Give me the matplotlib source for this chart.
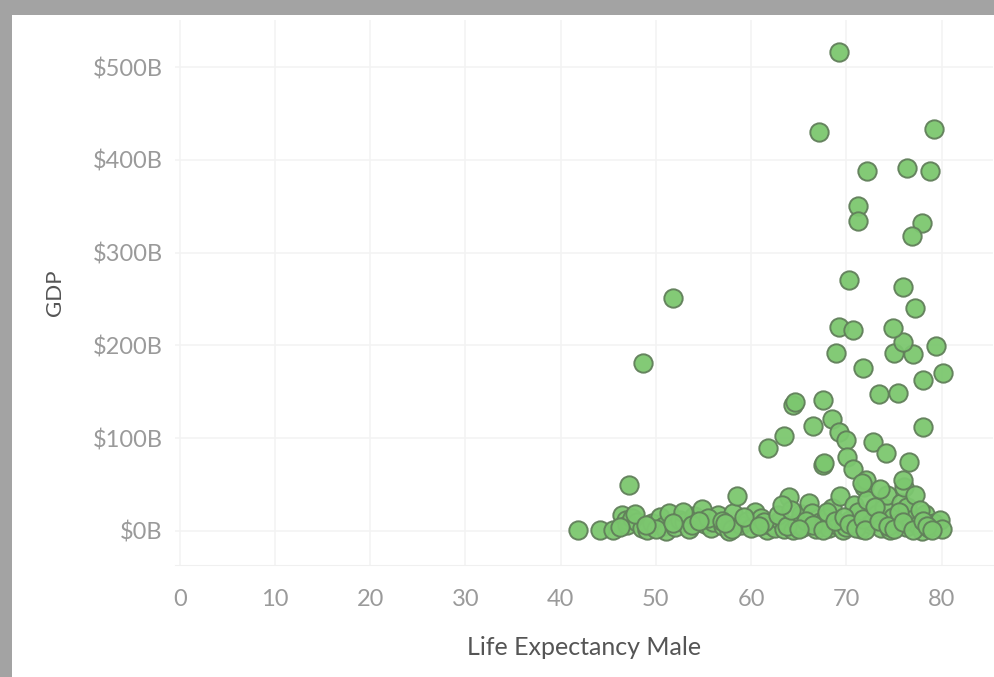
import matplotlib
matplotlib.use('Agg')
import matplotlib.pyplot as plt
from matplotlib.patches import Rectangle
from matplotlib.ticker import FuncFormatter

plt.rcParams['font.family'] = ['Lato', 'DejaVu Sans']

# life expectancy (years) and GDP (billions of $)
life_low = [41.8, 44.1, 45.5, 46.4, 46.9, 47.0, 47.5, 48.0, 48.5, 49.1, 49.6, 50.4,
            50.9, 51.1, 51.4, 52.0, 52.5, 53.0, 53.5, 54.0, 54.8, 55.2, 55.8, 56.0,
            56.5, 57.0, 57.7, 58.1, 58.5, 58.9, 59.6, 60.0, 60.4, 61.0, 61.7, 62.0,
            62.5, 63.0, 63.5, 64.0, 64.4, 64.8, 65.2, 65.5, 66.1, 66.4, 66.8, 67.2,
            67.9, 68.2, 68.5, 69.0, 69.3, 69.6, 70.0, 70.4, 70.8, 71.2, 71.5, 71.9,
            72.2, 72.5, 72.8, 73.2, 73.6, 74.0, 74.3, 74.6, 74.9, 75.3, 75.7, 76.1,
            76.4, 76.3, 76.8, 77.2, 77.5, 77.9, 78.3, 78.7, 79.2, 79.8, 80.0,
            46.2, 47.8, 50.0, 52.8, 53.8, 55.5, 56.9, 58.0, 59.2, 61.3, 62.8, 63.8,
            64.2, 65.8, 66.5, 67.5, 68.0, 68.8, 69.8, 70.3, 71.0, 71.7, 72.0, 73.0,
            73.4, 74.4, 75.0, 75.5, 76.0, 77.0, 77.7, 78.0, 78.5, 79.0, 65.0, 63.2,
            60.8, 57.3, 54.5, 51.8, 49.0]
gdp_low = [1, 1, 1, 17, 12, 6, 14, 9, 3, 1, 8, 15,
           5, 0, 19, 4, 12, 9, 2, 16, 23, 7, 3, 9,
           17, 5, 0, 19, 37, 6, 10, 3, 20, 14, 1, 6,
           3, 12, 2, 36, 1, 8, 18, 4, 30, 19, 2, 9,
           14, 3, 25, 6, 37, 1, 4, 12, 28, 20, 2, 47,
           33, 7, 9, 18, 3, 24, 39, 1, 15, 8, 30, 47,
           26, 4, 12, 39, 6, 0, 18, 3, 8, 12, 2,
           4, 18, 2, 20, 6, 14, 11, 2, 15, 9, 17, 5,
           22, 11, 6, 1, 20, 10, 15, 7, 3, 13, 1, 26,
           11, 5, 2, 20, 9, 1, 22, 10, 5, 1, 2, 28,
           5, 8, 11, 8, 6]

life_high = [47.2, 48.6, 51.8, 61.8, 63.4, 64.4, 64.6, 67.5, 66.5, 68.5, 69.2, 70.0,
             67.5, 67.7, 70.1, 70.7, 72.8, 74.2, 76.6, 73.4, 75.4, 78.0, 78.0, 80.2,
             71.7, 68.9, 75.0, 77.0, 75.9, 79.4, 69.2, 70.7, 74.9, 70.3, 76.0, 77.2,
             71.2, 71.2, 77.9, 76.9, 72.2, 76.4, 78.8, 67.1, 79.2, 69.2,
             72.1, 75.9, 73.5, 71.6]
gdp_high = [49, 181, 251, 89, 102, 136, 139, 141, 113, 120, 106, 98,
            71, 73, 79, 67, 96, 84, 74, 148, 149, 112, 163, 170,
            176, 192, 192, 191, 204, 199, 220, 217, 219, 270, 263, 240,
            350, 334, 332, 318, 388, 391, 388, 430, 433, 517,
            55, 55, 45, 52]

life = life_low + life_high
gdp = gdp_low + gdp_high

y_ticks = [0, 100, 200, 300, 400, 500]
x_ticks = [0, 10, 20, 30, 40, 50, 60, 70, 80]

fig = plt.figure(figsize=(9.95, 6.77), dpi=100)
ax = fig.add_axes([175 / 995, 112 / 677, 818 / 995, 545 / 677])

ax.scatter(life, gdp, s=175, facecolor='#7cc76f', edgecolor='#617f5a',
           linewidth=1.4, alpha=0.95, zorder=3)

ax.set_xlim(-0.5, 85.4)
ax.set_ylim(-37, 551)
ax.set_xticks(x_ticks)
ax.set_yticks(y_ticks)
ax.yaxis.set_major_formatter(FuncFormatter(lambda v, p: '$%dB' % v))
ax.grid(True, color='#f3f3f3', linewidth=1.2, zorder=0)
ax.tick_params(length=0, labelsize=17, colors='#9a9a9a')
ax.tick_params(axis='y', pad=9)
ax.tick_params(axis='x', pad=17)
for s in ['top', 'right', 'left']:
    ax.spines[s].set_visible(False)
ax.spines['bottom'].set_color('#f0f0f0')

ax.set_xlabel('Life Expectancy Male', fontsize=18, color='#555555', labelpad=19)
ax.set_ylabel('GDP', fontsize=16, color='#555555', labelpad=20)

# screenshot frame on the top and left edges
fig.patches.append(Rectangle((0, 1 - 15 / 677), 1, 15 / 677, transform=fig.transFigure,
                             facecolor='#a3a3a3', edgecolor='none', zorder=10))
fig.patches.append(Rectangle((0, 0), 12 / 995, 1, transform=fig.transFigure,
                             facecolor='#a3a3a3', edgecolor='none', zorder=10))

fig.savefig('out.png', dpi=100)
